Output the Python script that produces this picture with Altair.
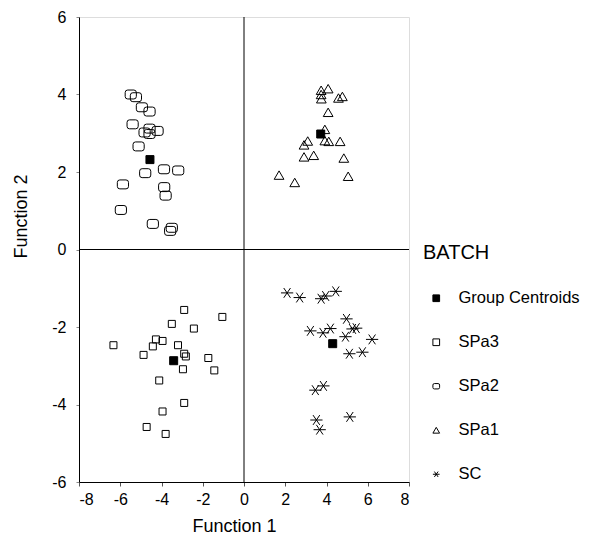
import altair as alt
import pandas as pd

# ---- data ----
spa3_x = [-2.90, -1.05, -3.50, -2.43, -4.27, -3.95, -4.42, -6.33, -3.20, -4.87,
          -2.90, -2.82, -1.73, -2.96, -1.44, -4.11, -2.90, -3.95, -4.72, -3.80]
spa3_y = [-1.56, -1.74, -1.92, -2.04, -2.32, -2.36, -2.50, -2.47, -2.47, -2.72,
          -2.69, -2.76, -2.80, -3.09, -3.12, -3.38, -3.96, -4.18, -4.58, -4.76]

spa2_x = [-5.49, -5.24, -4.95, -4.58, -5.40, -4.58, -4.82, -4.58, -4.19, -5.11,
          -4.79, -3.88, -3.19, -5.87, -3.87, -3.80, -5.97, -4.42, -3.50, -3.58]
spa2_y = [4.00, 3.93, 3.67, 3.56, 3.23, 3.12, 3.02, 2.98, 3.06, 2.66,
          1.97, 2.07, 2.04, 1.68, 1.61, 1.39, 1.02, 0.66, 0.56, 0.48]

spa1_x = [3.74, 4.08, 3.74, 3.75, 4.58, 4.77, 4.08, 3.92, 3.92, 4.11,
          4.66, 3.09, 2.91, 2.91, 3.38, 4.84, 1.70, 2.46, 5.05]
spa1_y = [4.11, 4.15, 4.00, 3.89, 3.91, 3.95, 3.54, 3.10, 2.81, 2.79,
          2.79, 2.80, 2.70, 2.39, 2.43, 2.36, 1.92, 1.73, 1.89]

sc_x = [2.09, 2.70, 3.74, 3.96, 4.45, 4.97, 3.22, 3.83, 4.19, 5.26,
        5.44, 4.92, 6.21, 5.11, 5.74, 3.46, 3.85, 3.51, 5.13, 3.67]
sc_y = [-1.12, -1.24, -1.27, -1.20, -1.08, -1.79, -2.10, -2.15, -2.04, -2.05,
        -2.03, -2.25, -2.32, -2.69, -2.65, -3.63, -3.52, -4.40, -4.32, -4.65]

centroid_x = [-4.56, 3.72, -3.41, 4.30]
centroid_y = [2.32, 2.98, -2.87, -2.43]

categories = ["Group Centroids", "SPa3", "SPa2", "SPa1", "SC"]
x_ticks = [-8, -6, -4, -2, 0, 2, 4, 6, 8]
y_ticks = [-6, -4, -2, 0, 2, 4, 6]

# ---- styling ----
ROUND_SQ = ("M-0.55,-0.8L0.55,-0.8Q1,-0.8 1,-0.35L1,0.35Q1,0.8 0.55,0.8"
            "L-0.55,0.8Q-1,0.8 -1,0.35L-1,-0.35Q-1,-0.8 -0.55,-0.8Z")
STAR = "M-1,0L1,0M-0.55,-0.8L0.55,0.8M-0.55,0.8L0.55,-0.8"
shapes = ["square", "square", ROUND_SQ, "triangle-up", STAR]
fills = ["black", "transparent", "transparent", "transparent", "transparent"]
strokes = ["black"] * 5
size_map = {"Group Centroids": 64, "SPa3": 49, "SPa2": 125, "SPa1": 95, "SC": 150}

rows = []
for name, xs, ys in [("SPa3", spa3_x, spa3_y), ("SPa2", spa2_x, spa2_y),
                     ("SPa1", spa1_x, spa1_y), ("SC", sc_x, sc_y),
                     ("Group Centroids", centroid_x, centroid_y)]:
    for xv, yv in zip(xs, ys):
        rows.append({"x": xv, "y": yv, "batch": name, "sz": size_map[name]})
df = pd.DataFrame(rows)

FONT = "Liberation Sans"

legend = alt.Legend(title="BATCH", orient="none", legendX=344, legendY=226,
                    titleFontSize=20, titleFont=FONT, titleFontWeight="normal",
                    titleColor="black", titlePadding=27,
                    labelFontSize=16.5, labelFont=FONT, labelColor="black",
                    labelOffset=14, rowPadding=27, symbolOffset=5,
                    symbolSize=45, symbolStrokeColor="black", symbolStrokeWidth=1)

xscale = alt.Scale(domain=[-8, 8], nice=False, zero=False)
yscale = alt.Scale(domain=[-6, 6], nice=False, zero=False)

xaxis = alt.Axis(values=x_ticks, title="Function 1", grid=False, tickSize=4,
                 labelFontSize=16, titleFontSize=18, labelFont=FONT, titleFont=FONT,
                 titleFontWeight="normal", labelColor="black", titleColor="black",
                 domainColor="black", tickColor="#555555", labelPadding=5,
                 titlePadding=10, titleX=155,
                 labelExpr="'' + datum.value")
yaxis = alt.Axis(values=y_ticks, title="Function 2", grid=False, tickSize=3,
                 labelFontSize=16, titleFontSize=18, labelFont=FONT, titleFont=FONT,
                 titleFontWeight="normal", labelColor="black", titleColor="black",
                 domainColor="black", tickColor="#888888", labelPadding=10,
                 titleX=-58, titleY=199, titleBaseline="middle",
                 labelExpr="'' + datum.value")

points = alt.Chart(df).mark_point(strokeWidth=1, opacity=1,
                                  fillOpacity=1, strokeOpacity=1).encode(
    x=alt.X("x:Q", scale=xscale, axis=xaxis),
    y=alt.Y("y:Q", scale=yscale, axis=yaxis),
    shape=alt.Shape("batch:N", scale=alt.Scale(domain=categories, range=shapes),
                    legend=legend),
    fill=alt.Fill("batch:N", scale=alt.Scale(domain=categories, range=fills),
                  legend=legend),
    stroke=alt.Stroke("batch:N", scale=alt.Scale(domain=categories, range=strokes),
                      legend=legend),
    size=alt.Size("sz:Q", scale=None),
)

zero = pd.DataFrame({"z": [0]})
vrule = alt.Chart(zero).mark_rule(color="black", strokeWidth=1).encode(
    x=alt.X("z:Q", scale=xscale, axis=xaxis))
hrule = alt.Chart(zero).mark_rule(color="black", strokeWidth=1).encode(
    y=alt.Y("z:Q", scale=yscale, axis=yaxis))

chart = alt.layer(vrule, hrule, points).properties(
    width=330, height=465,
    autosize=alt.AutoSizeParams(type="none"),
    padding={"left": 71, "top": 9, "right": 177, "bottom": 54},
).configure_view(stroke="black", strokeWidth=1).configure(background="white")

chart.save("out.html", embed_options={"renderer": "svg", "actions": False})
